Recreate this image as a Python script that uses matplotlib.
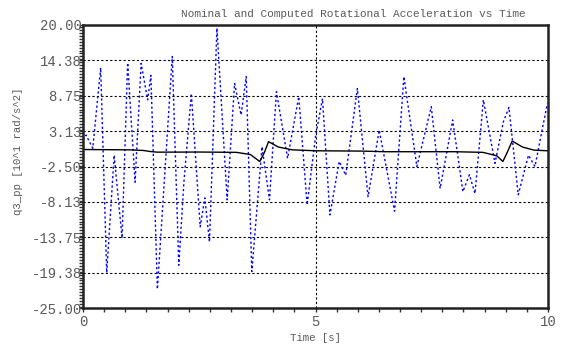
import matplotlib
matplotlib.use("Agg")
import matplotlib.pyplot as plt
from matplotlib.ticker import MultipleLocator

# nominal rotational acceleration (blue dotted)
t_nom = [0.0, 0.065, 0.21, 0.38, 0.51, 0.67, 0.84, 0.96, 1.12, 1.25, 1.39, 1.46,
         1.60, 1.92, 2.06, 2.17, 2.33, 2.52, 2.62, 2.72, 2.88, 3.10, 3.26, 3.40,
         3.51, 3.63, 3.85, 4.01, 4.16, 4.40, 4.64, 4.82, 5.0, 5.15, 5.31, 5.51,
         5.65, 5.90, 6.13, 6.37, 6.70, 6.90, 7.18, 7.49, 7.68, 7.95, 8.17, 8.31,
         8.43, 8.61, 8.86, 9.04, 9.16, 9.36, 9.58, 9.72, 9.985]
q_nom = [1.7, 2.5, 0.4, 13.2, -19.4, -0.7, -13.9, 14.0, -5.0, 13.9, 8.1, 12.0,
         -22.0, 15.0, -18.2, -5.0, 9.1, -12.1, -7.5, -14.5, 19.5, -7.8, 10.7, 5.7,
         11.8, -19.2, 0.65, -7.8, 9.4, -1.2, 8.6, -8.6, 2.2, 8.3, -10.2, -1.7,
         -3.9, 9.9, -7.3, 3.3, -9.6, 11.8, -2.5, 7.0, -6.0, 4.9, -6.5, -3.8,
         -6.8, 8.1, -2.0, 4.6, 6.9, -7.0, -0.7, -2.5, 7.5]

# computed rotational acceleration (black solid)
t_cmp = [0.0, 1.0, 1.3, 1.45, 1.6, 2.5, 3.3, 3.6, 3.8, 3.9, 3.99, 4.2, 4.5, 5.0,
         6.0, 6.5, 8.0, 8.6, 8.9, 9.03, 9.12, 9.23, 9.45, 9.7, 10.0]
q_cmp = [0.2, 0.15, 0.05, -0.12, -0.22, -0.2, -0.25, -0.6, -1.7, -0.3, 1.45, 0.6,
         0.15, 0.0, -0.05, -0.15, -0.15, -0.25, -0.8, -1.7, -0.3, 1.55, 0.6, 0.1, 0.0]

yticks = [-25.0, -19.375, -13.75, -8.125, -2.5, 3.125, 8.75, 14.375, 20.0]
ytick_labels = ["-25.00", "-19.38", "-13.75", "-8.13", "-2.50", "3.13", "8.75", "14.38", "20.00"]
xticks = [0, 5, 10]

plt.rcParams["font.family"] = ["Liberation Mono", "DejaVu Sans Mono"]
gray = "#5a5a5a"

fig = plt.figure(figsize=(5.63, 3.47), dpi=100)
ax = fig.add_axes([83 / 563, 1 - 308 / 347, 465 / 563, 283 / 347])

ax.plot(t_nom, q_nom, color="#0000ff", lw=1.0, linestyle=(0, (1.6, 1.8)))
ax.plot(t_cmp, q_cmp, color="black", lw=1.0)

ax.set_xlim(0, 10)
ax.set_ylim(-25, 20)
ax.set_xticks(xticks)
ax.set_xticklabels([str(x) for x in xticks])
ax.set_yticks(yticks)
ax.set_yticklabels(ytick_labels)
ax.xaxis.set_minor_locator(MultipleLocator(5 / 11))
ax.yaxis.set_minor_locator(MultipleLocator(5.625 / 12))

ax.grid(True, which="major", color="black", lw=0.8, linestyle=(0, (2, 2)))
ax.tick_params(axis="both", which="both", direction="out", color="#333333",
               labelcolor=gray, labelsize=10)
ax.tick_params(axis="y", which="both", length=3, width=1, pad=-2)
ax.tick_params(axis="x", which="both", length=3, width=1, pad=2)

for s in ax.spines.values():
    s.set_linewidth(1.8)
    s.set_color("#222222")

fig.text(353 / 563, 1 - 14 / 347, "Nominal and Computed Rotational Acceleration vs Time",
         ha="center", va="center", fontsize=8, color=gray)
fig.text(315 / 563, 1 - 338 / 347, "Time [s]", ha="center", va="center",
         fontsize=7.7, color=gray)
fig.text(18 / 563, 1 - 151 / 347, "q3_pp [10^1 rad/s^2]", ha="center", va="center",
         rotation=90, fontsize=7.7, color=gray)

fig.savefig("out.png", dpi=100)
